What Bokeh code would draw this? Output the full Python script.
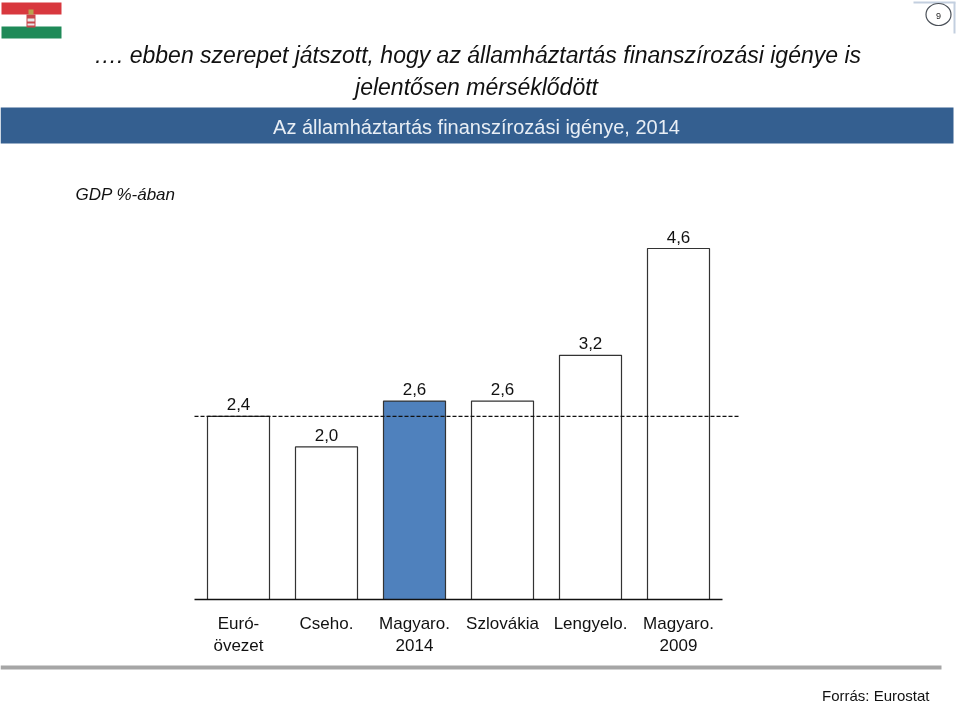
from bokeh.plotting import figure
from bokeh.models import Range1d, ColumnDataSource, LinearScale
from bokeh.core.properties import value
from bokeh.embed import file_html
from bokeh.resources import INLINE

categories = ["Euró-\növezet", "Cseho.", "Magyaro.\n2014", "Szlovákia", "Lengyelo.", "Magyaro.\n2009"]
values = [2.4, 2.0, 2.6, 2.6, 3.2, 4.6]
labels = ["2,4", "2,0", "2,6", "2,6", "3,2", "4,6"]
fills = ["#ffffff", "#ffffff", "#4f81bd", "#ffffff", "#ffffff", "#ffffff"]
reference_value = 2.4
title_lines = ["…. ebben szerepet játszott, hogy az államháztartás finanszírozási igénye is", "jelentősen mérséklődött"]
subtitle = "Az államháztartás finanszírozási igénye, 2014"
unit = "GDP %-ában"
source_note = "Forrás: Eurostat"
page_number = "9"

W, H = 959, 702
X0, DX, Y0, DY = 238.0, 88.0, 599.0, 76.3
FONT = value("Liberation Sans")

p = figure(width=W, height=H, output_backend="svg", toolbar_location=None,
           x_range=Range1d(-X0 / DX, (W - X0) / DX),
           y_range=Range1d(-(H - Y0) / DY, Y0 / DY),
           min_border=0, outline_line_color=None, background_fill_color="white")
p.styles = {"position": "fixed", "left": "0", "top": "0"}
p.xaxis.visible = False
p.yaxis.visible = False
p.grid.visible = False
p.extra_x_ranges["px"] = Range1d(0, W)
p.extra_y_ranges["px"] = Range1d(H, 0)
p.extra_x_scales["px"] = LinearScale()
p.extra_y_scales["px"] = LinearScale()
PX = dict(x_range_name="px", y_range_name="px")

idx = list(range(len(values)))
src = ColumnDataSource(dict(x=idx, top=values, fill=fills, label=labels, cat=categories,
                            ly=[v + 6 / DY for v in values]))

# decorations (page furniture)
p.quad(left=[1], right=[61], top=[2], bottom=[14], fill_color="#d8383e", line_color=None, **PX)
p.quad(left=[1], right=[61], top=[26], bottom=[38], fill_color="#1f8a58", line_color=None, **PX)
p.quad(left=[26], right=[35], top=[14], bottom=[27], fill_color="#c8464a", line_color=None, **PX)
p.quad(left=[27], right=[34], top=[18], bottom=[21], fill_color="#e8e8e8", line_color=None, **PX)
p.quad(left=[27], right=[34], top=[23], bottom=[25], fill_color="#e8e8e8", line_color=None, **PX)
p.quad(left=[28], right=[33], top=[9], bottom=[14], fill_color="#b9a24f", line_color=None, **PX)
p.quad(left=[0], right=[953], top=[107], bottom=[143], fill_color="#345f90", line_color=None, **PX)
p.quad(left=[0], right=[941], top=[665], bottom=[669], fill_color="#a6a6a6", line_color=None, **PX)
p.segment(x0=[913], y0=[2], x1=[955], y1=[2], line_color="#c3cfdf", line_width=2, **PX)
p.segment(x0=[954], y0=[2], x1=[954], y1=[33], line_color="#c3cfdf", line_width=2, **PX)
p.ellipse(x=[938], y=[14], width=[25], height=[22], fill_color="white", line_color="#4a5058", line_width=1.2, **PX)

# bars
p.vbar(x="x", top="top", bottom=0, width=62 / DX, fill_color="fill", line_color="#333333", line_width=1.2, source=src)
# reference line and baseline
p.line(x=[-0.5, 5.7], y=[reference_value] * 2, line_color="#111111", line_width=1.2, line_dash="4 2")
p.line(x=[-0.5, 5.5], y=[0, 0], line_color="#111111", line_width=1.5)

# value labels
p.text(x="x", y="ly", text="label", source=src, text_font=FONT, text_font_size="17px",
       text_align="center", text_baseline="bottom", text_color="#111111")
p.text(x="x", y=-14 / DY, text="cat", source=src, text_font=FONT, text_font_size="17px",
       text_align="center", text_baseline="top", text_color="#111111", text_line_height=1.2)

# texts
p.text(x=[477, 476], y=[54, 86], text=title_lines, text_font=FONT, text_font_style="italic",
       text_font_size="23px", text_align="center", text_baseline="middle", text_color="#111111", **PX)
p.text(x=[476], y=[126], text=[subtitle], text_font=FONT, text_font_size="20px",
       text_align="center", text_baseline="middle", text_color="#e8eef5", **PX)
p.text(x=[75], y=[194], text=[unit], text_font=FONT, text_font_style="italic", text_font_size="17px",
       text_align="left", text_baseline="middle", text_color="#111111", **PX)
p.text(x=[929], y=[695], text=[source_note], text_font=FONT, text_font_size="15px",
       text_align="right", text_baseline="middle", text_color="#111111", **PX)
p.text(x=[938], y=[15], text=[page_number], text_font=FONT, text_font_size="9px",
       text_align="center", text_baseline="middle", text_color="#222222", **PX)

open("out.html", "w").write(file_html(p, INLINE))
